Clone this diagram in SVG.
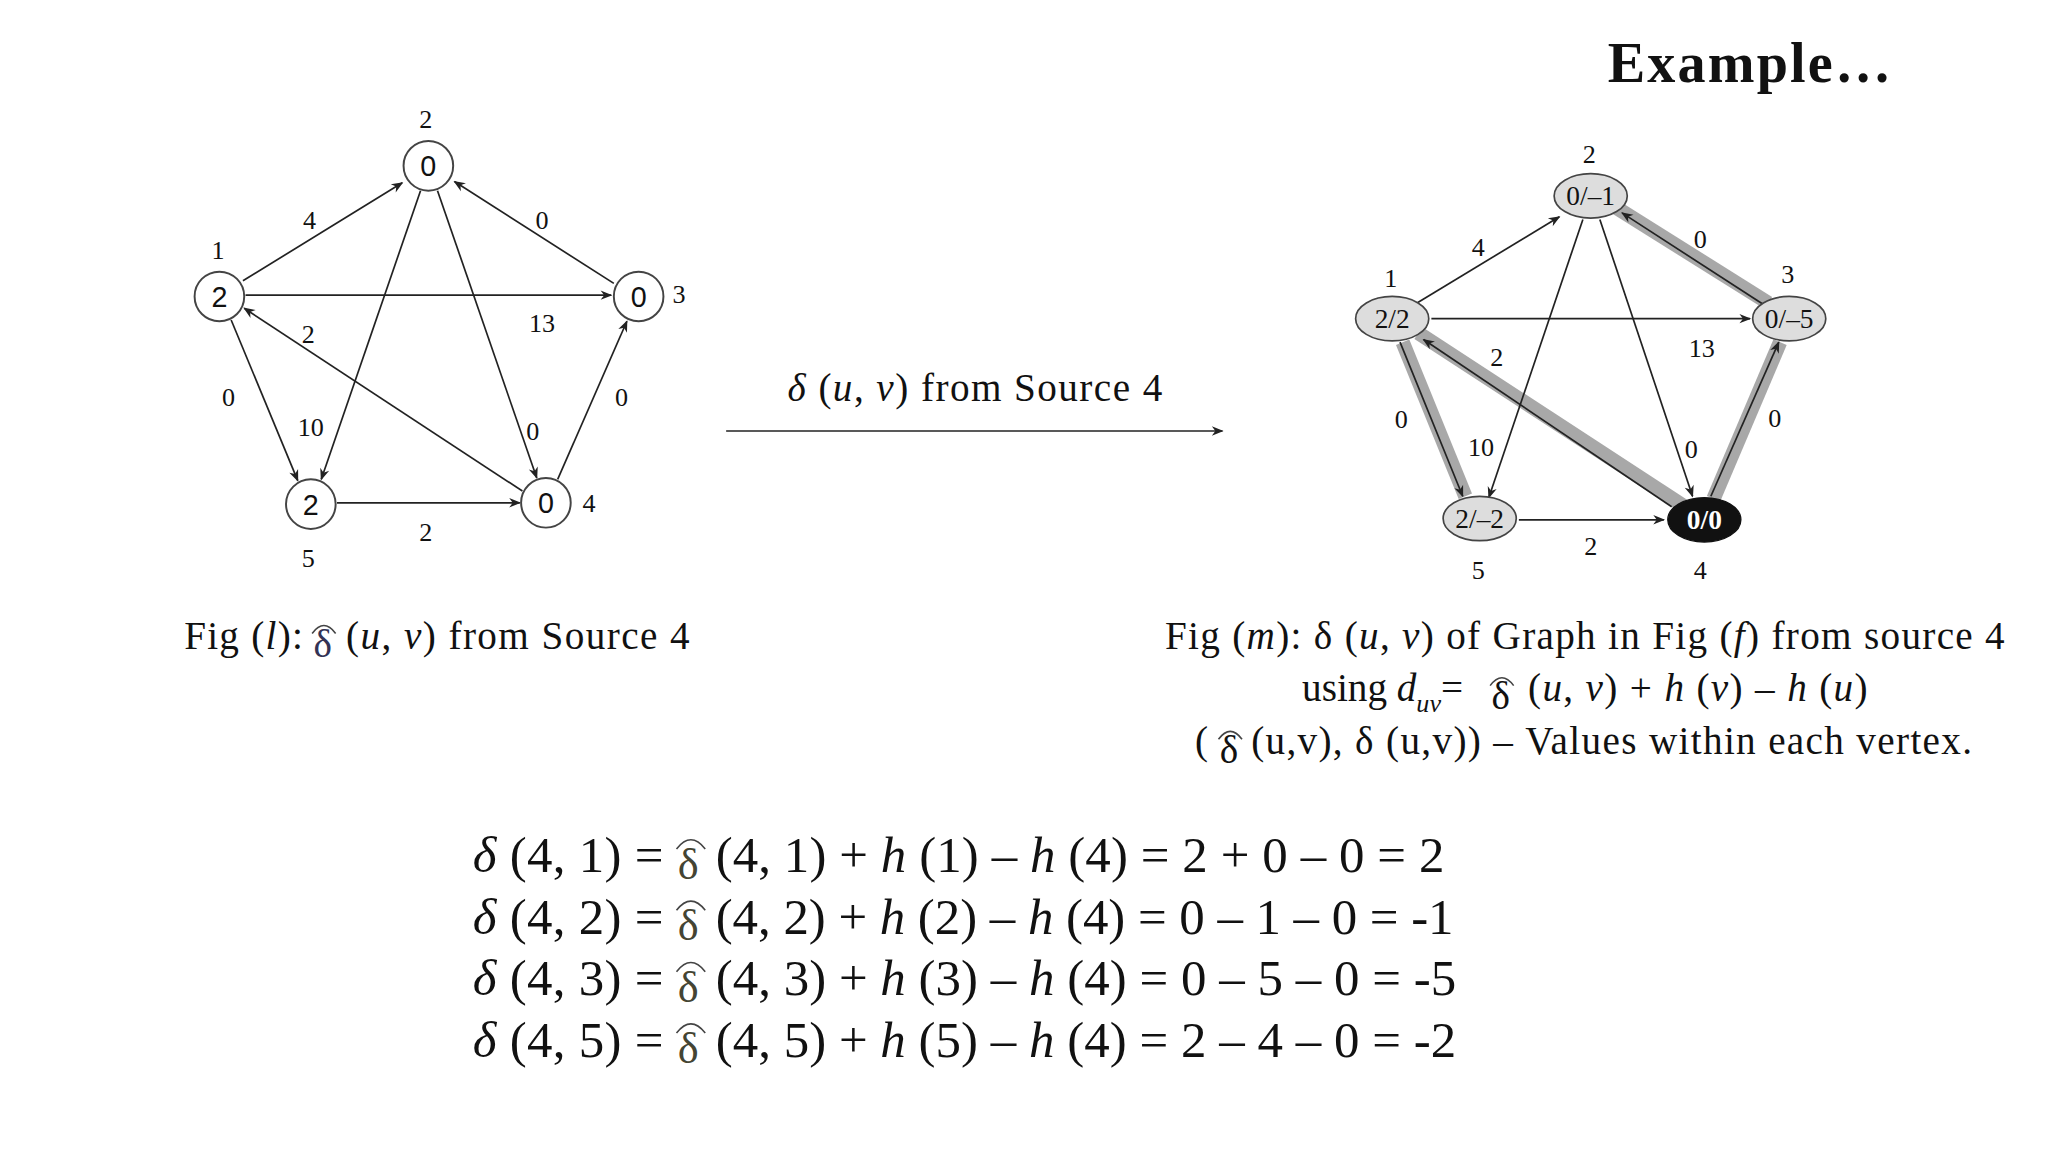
<svg xmlns="http://www.w3.org/2000/svg" width="2048" height="1152" viewBox="0 0 2048 1152">
<defs>
<marker id="ah" viewBox="0 0 10 10" refX="9" refY="5" markerWidth="11" markerHeight="9" orient="auto" markerUnits="userSpaceOnUse"><path d="M0,1 L10,5 L0,9 L3,5 Z" fill="#222"/></marker>
</defs>
<style>
.t{font-family:"Liberation Serif",serif;fill:#111}
.s{font-family:"Liberation Sans",sans-serif;fill:#111}
.e{stroke:#222;stroke-width:1.3;fill:none;marker-end:url(#ah)}
.sh{stroke:#a8a8a8;stroke-width:11;fill:none}
.n{fill:#fff;stroke:#444;stroke-width:1.5}
.g{fill:#ddd;stroke:#444;stroke-width:1.3}
.w{font-size:20px}
.hat{fill:none;stroke:#444;stroke-width:1.2}
</style>
<rect width="2048" height="1152" fill="#fff"/>
<g transform="scale(1.306)">
<text class="t" x="1231" y="63" font-size="43" font-weight="bold" textLength="217">Example…</text>

<g id="connectors-left">
<line class="e" x1="186" y1="215" x2="308" y2="140"/>
<line class="e" x1="470" y1="217" x2="348" y2="139"/>
<line class="e" x1="188" y1="226" x2="468" y2="226"/>
<line class="e" x1="400" y1="376" x2="187" y2="236"/>
<line class="e" x1="177" y1="245" x2="228" y2="368"/>
<line class="e" x1="322" y1="146" x2="246" y2="367"/>
<line class="e" x1="335" y1="146" x2="411" y2="366"/>
<line class="e" x1="258" y1="385" x2="398" y2="385"/>
<line class="e" x1="427" y1="367" x2="480" y2="246"/>
</g>
<g class="t w">
<text x="232" y="175">4</text><text x="410" y="175">0</text><text x="405" y="254">13</text>
<text x="231" y="263">2</text><text x="170" y="311">0</text><text x="228" y="334">10</text>
<text x="403" y="337">0</text><text x="321" y="414">2</text><text x="471" y="311">0</text>
<text x="321" y="98">2</text><text x="162" y="198">1</text><text x="515" y="232">3</text>
<text x="446" y="392">4</text><text x="231" y="434">5</text>
</g>
<g id="L2"><circle class="n" cx="328" cy="127" r="19"/><text class="s" x="328" y="135" font-size="22" text-anchor="middle">0</text></g>
<g id="L1"><circle class="n" cx="168" cy="227" r="19"/><text class="s" x="168" y="235" font-size="22" text-anchor="middle">2</text></g>
<g id="L3"><circle class="n" cx="489" cy="227" r="19"/><text class="s" x="489" y="235" font-size="22" text-anchor="middle">0</text></g>
<g id="L5"><circle class="n" cx="238" cy="386" r="19"/><text class="s" x="238" y="394" font-size="22" text-anchor="middle">2</text></g>
<g id="L4"><circle class="n" cx="418" cy="385" r="19"/><text class="s" x="418" y="393" font-size="22" text-anchor="middle">0</text></g>

<g id="mid-arrow">
<line x1="556" y1="330" x2="936" y2="330" stroke="#222" stroke-width="1.3" marker-end="url(#ah)"/>
<text class="t" x="603" y="307" font-size="30" textLength="287"><tspan font-style="italic">δ</tspan> (<tspan font-style="italic">u</tspan>, <tspan font-style="italic">v</tspan>) from Source 4</text>
</g>

<g id="connectors-right">
<line class="sh" x1="1086" y1="255" x2="1290" y2="388"/>
<line class="sh" x1="1074" y1="262" x2="1122" y2="380"/>
<line class="sh" x1="1354" y1="232" x2="1236" y2="158"/>
<line class="sh" x1="1312" y1="382" x2="1363" y2="262"/>
<line class="e" x1="1085" y1="232" x2="1194" y2="166"/>
<line class="e" x1="1350" y1="233" x2="1242" y2="163"/>
<line class="e" x1="1096" y1="244" x2="1340" y2="244"/>
<line class="e" x1="1280" y1="388" x2="1090" y2="260"/>
<line class="e" x1="1072" y1="262" x2="1120" y2="380"/>
<line class="e" x1="1212" y1="168" x2="1140" y2="381"/>
<line class="e" x1="1225" y1="168" x2="1296" y2="380"/>
<line class="e" x1="1163" y1="398" x2="1274" y2="398"/>
<line class="e" x1="1310" y1="380" x2="1362" y2="262"/>
</g>
<g class="t w">
<text x="1127" y="196">4</text><text x="1297" y="190">0</text><text x="1293" y="273">13</text>
<text x="1141" y="280">2</text><text x="1068" y="328">0</text><text x="1124" y="349">10</text>
<text x="1290" y="351">0</text><text x="1213" y="425">2</text><text x="1354" y="327">0</text>
<text x="1212" y="125">2</text><text x="1060" y="220">1</text><text x="1364" y="217">3</text>
<text x="1297" y="443">4</text><text x="1127" y="443">5</text>
</g>
<g id="R2"><ellipse class="g" cx="1218" cy="150" rx="28" ry="17"/><text class="t" x="1218" y="157" font-size="21" text-anchor="middle">0/–1</text></g>
<g id="R1"><ellipse class="g" cx="1066" cy="244" rx="28" ry="17"/><text class="t" x="1066" y="251" font-size="21" text-anchor="middle">2/2</text></g>
<g id="R3"><ellipse class="g" cx="1370" cy="244" rx="28" ry="17"/><text class="t" x="1370" y="251" font-size="21" text-anchor="middle">0/–5</text></g>
<g id="R5"><ellipse class="g" cx="1133" cy="397" rx="28" ry="17"/><text class="t" x="1133" y="404" font-size="21" text-anchor="middle">2/–2</text></g>
<g id="R4"><ellipse cx="1305" cy="398" rx="28" ry="17" fill="#111" stroke="#111"/><text class="t" x="1305" y="405" font-size="21" font-weight="bold" style="fill:#fff" text-anchor="middle">0/0</text></g>

<g id="captions" class="t" font-size="30">
<text x="141" y="497" textLength="91">Fig (<tspan font-style="italic">l</tspan>):</text>
<text x="240" y="503" font-size="30" fill="#335">δ</text><path class="hat" d="M239,485 Q248,473 257,485"/>
<text x="265" y="497" textLength="263">(<tspan font-style="italic">u</tspan>, <tspan font-style="italic">v</tspan>) from Source 4</text>

<text x="892" y="497" textLength="643">Fig (<tspan font-style="italic">m</tspan>): δ (<tspan font-style="italic">u</tspan>, <tspan font-style="italic">v</tspan>) of Graph in Fig (<tspan font-style="italic">f</tspan>) from source 4</text>
<text x="997" y="537">using <tspan font-style="italic">d</tspan><tspan font-style="italic" font-size="20" dy="8">uv</tspan><tspan dy="-8">=</tspan></text>
<text x="1142" y="543" font-size="30">δ</text><path class="hat" d="M1141,525 Q1150,513 1159,525"/>
<text x="1170" y="537" textLength="260">(<tspan font-style="italic">u</tspan>, <tspan font-style="italic">v</tspan>) + <tspan font-style="italic">h</tspan> (<tspan font-style="italic">v</tspan>) – <tspan font-style="italic">h</tspan> (<tspan font-style="italic">u</tspan>)</text>
<text x="915" y="577">(</text>
<text x="934" y="584" font-size="30">δ</text><path class="hat" d="M933,566 Q942,554 951,566"/>
<text x="958" y="577" textLength="552">(u,v), δ (u,v)) – Values within each vertex.</text>
</g>

<g id="equations" class="t" font-size="39">
<g>
<text x="362" y="668" textLength="146"><tspan font-style="italic">δ</tspan> (4, 1) =</text>
<text x="362" y="715" textLength="146"><tspan font-style="italic">δ</tspan> (4, 2) =</text>
<text x="362" y="762" textLength="146"><tspan font-style="italic">δ</tspan> (4, 3) =</text>
<text x="362" y="809" textLength="146"><tspan font-style="italic">δ</tspan> (4, 5) =</text>
</g>
<g font-size="34" fill="#443">
<text x="519" y="673">δ</text><text x="519" y="720">δ</text><text x="519" y="767">δ</text><text x="519" y="814">δ</text>
</g>
<path class="hat" d="M518,650 Q529,636 540,650"/><path class="hat" d="M518,697 Q529,683 540,697"/>
<path class="hat" d="M518,744 Q529,730 540,744"/><path class="hat" d="M518,791 Q529,777 540,791"/>
<text x="548" y="668" textLength="558">(4, 1) + <tspan font-style="italic">h</tspan> (1) – <tspan font-style="italic">h</tspan> (4) = 2 + 0 – 0 = 2</text>
<text x="548" y="715" textLength="565">(4, 2) + <tspan font-style="italic">h</tspan> (2) – <tspan font-style="italic">h</tspan> (4) = 0 – 1 – 0 = -1</text>
<text x="548" y="762" textLength="567">(4, 3) + <tspan font-style="italic">h</tspan> (3) – <tspan font-style="italic">h</tspan> (4) = 0 – 5 – 0 = -5</text>
<text x="548" y="809" textLength="567">(4, 5) + <tspan font-style="italic">h</tspan> (5) – <tspan font-style="italic">h</tspan> (4) = 2 – 4 – 0 = -2</text>
</g>
</g>
</svg>
